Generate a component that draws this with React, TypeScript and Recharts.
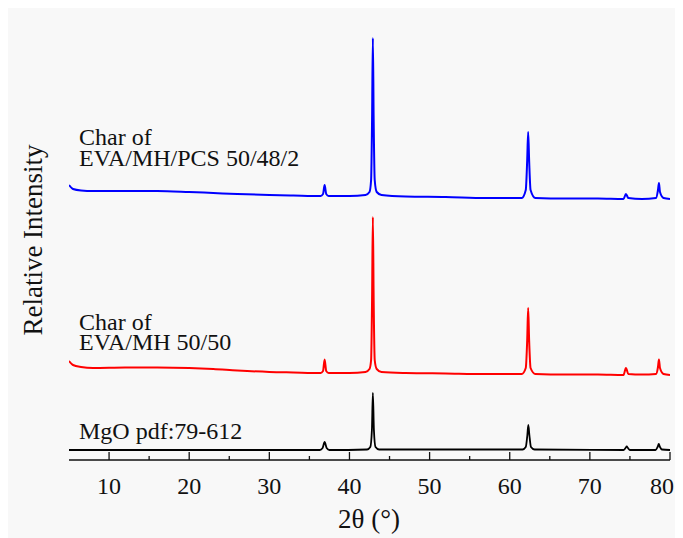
import React from 'react';
import { LineChart, Line, XAxis, YAxis } from 'recharts';

// 2θ positions (degrees) and relative intensity (arbitrary units)
const mgoTheta = [5, 20, 36.3, 36.65, 36.9, 37.15, 37.5, 42.2, 42.6, 42.8, 42.92, 43.05, 43.25, 43.7, 61.6, 62.0, 62.2, 62.32, 62.45, 62.65, 63.1, 74.2, 74.45, 74.6, 74.75, 75.0, 78.2, 78.45, 78.6, 78.75, 79.0, 80];
const mgoInt = [10, 10, 10, 12, 18, 12, 10, 10.5, 13, 30, 67, 30, 13, 10.5, 10.5, 13, 25, 35, 25, 13, 10.5, 10, 12, 13.5, 12, 10, 10, 13, 16, 13, 10.5, 10];

const charTheta = [5, 5.5, 6.5, 8, 12, 16, 20, 23, 26, 30, 33, 36.4, 36.7, 36.9, 37.1, 37.4, 40, 42.0, 42.5, 42.7, 42.82, 42.92, 43.02, 43.15, 43.4, 44, 47, 52, 57, 61.5, 62.0, 62.18, 62.3, 62.42, 62.6, 63.2, 67, 71, 74.2, 74.5, 74.8, 76.5, 78.25, 78.5, 78.62, 78.75, 79.2, 80];
const mhInt = [99, 95, 93, 92, 92.5, 92.5, 92, 91, 89.5, 88, 87.5, 87, 89, 100.5, 89, 87, 87, 88, 91, 100, 160, 243, 160, 100, 91, 88, 87, 86.5, 86, 86, 92, 120, 152, 120, 92, 86, 85.5, 85.5, 85, 92, 86, 85.5, 86, 93, 100.5, 92, 86, 85];
const pcsInt = [275, 271, 269.5, 269, 269, 269, 268, 267, 266, 265, 264.5, 264, 266, 275, 266, 264, 264, 265, 268, 280, 340, 422, 340, 280, 268, 265, 263.5, 263, 262, 262, 270, 300, 328, 300, 270, 262, 261.5, 261.5, 261, 266, 262, 261, 262, 270, 277, 268, 262, 261];

const majorTicks = [10, 20, 30, 40, 50, 60, 70, 80];
const minorTicks = [15, 25, 35, 45, 55, 65, 75];
const allTicks = [...majorTicks, ...minorTicks].sort((a, b) => a - b);

const labelPCS = ['Char of', 'EVA/MH/PCS 50/48/2'];
const labelMH = ['Char of', 'EVA/MH 50/50'];
const labelMgO = 'MgO pdf:79-612';

const mgoData = mgoTheta.map((t, i) => ({ t, v: mgoInt[i] }));
const mhData = charTheta.map((t, i) => ({ t, v: mhInt[i] }));
const pcsData = charTheta.map((t, i) => ({ t, v: pcsInt[i] }));

const FONT = "'Liberation Serif', 'DejaVu Serif', serif";
const W = 675;
const H = 530;
const textStyle: React.CSSProperties = { fontFamily: FONT, fontSize: 24 };
const titleStyle: React.CSSProperties = { fontFamily: FONT, fontSize: 27 };

function BottomTick(props: any) {
  const { x, y, payload } = props;
  const v = payload.value;
  const major = majorTicks.includes(v);
  const last = v === majorTicks[majorTicks.length - 1];
  return (
    <g>
      <line x1={x} x2={x} y1={y} y2={y - (major ? 8 : 4)} stroke="#111" strokeWidth={1.3} />
      {major && (
        <text
          x={last ? x + 4 : x}
          y={y + 34}
          textAnchor={last ? 'end' : 'middle'}
          style={textStyle}
          fill="#111"
        >
          {v}
        </text>
      )}
    </g>
  );
}

export default function App() {
  return (
    <div style={{ position: 'relative', width: W, height: H, background: '#f8f8f8', fontFamily: FONT }}>
      <LineChart width={W} height={H} margin={{ top: 11, left: 61, right: 13, bottom: 0 }} style={{ overflow: 'visible' }}>
        <XAxis
          xAxisId="b"
          dataKey="t"
          type="number"
          domain={[5, 80]}
          allowDataOverflow
          ticks={allTicks}
          interval={0}
          tickSize={0}
          tickMargin={0}
          tickLine={false}
          tick={<BottomTick />}
          height={78}
          axisLine={{ stroke: '#111', strokeWidth: 1.6 }}
        />
        <XAxis
          xAxisId="t"
          orientation="top"
          dataKey="t"
          type="number"
          domain={[5, 80]}
          allowDataOverflow
          tick={false}
          tickLine={false}
          height={0}
          axisLine={{ stroke: '#111', strokeWidth: 1.6 }}
        />
        <YAxis
          yAxisId="l"
          type="number"
          domain={[0, 441]}
          allowDataOverflow
          tick={false}
          tickLine={false}
          width={0}
          axisLine={{ stroke: '#111', strokeWidth: 1.6 }}
        />
        <YAxis
          yAxisId="r"
          orientation="right"
          type="number"
          domain={[0, 441]}
          allowDataOverflow
          tick={false}
          tickLine={false}
          width={0}
          axisLine={{ stroke: '#111', strokeWidth: 1.6 }}
        />
        <Line xAxisId="b" yAxisId="l" data={mgoData} dataKey="v" type="monotone" stroke="#000000" strokeWidth={1.8} dot={false} isAnimationActive={false} />
        <Line xAxisId="b" yAxisId="l" data={mhData} dataKey="v" type="monotone" stroke="#ff0000" strokeWidth={2} dot={false} isAnimationActive={false} />
        <Line xAxisId="b" yAxisId="l" data={pcsData} dataKey="v" type="monotone" stroke="#0000ff" strokeWidth={2} dot={false} isAnimationActive={false} />
      </LineChart>
      <svg width={W} height={H} style={{ position: 'absolute', left: 0, top: 0, pointerEvents: 'none', overflow: 'visible' }}>
        <g style={textStyle} fill="#111">
          <text x={71} y={137}>{labelPCS[0]}</text>
          <text x={71} y={158}>{labelPCS[1]}</text>
          <text x={71} y={322}>{labelMH[0]}</text>
          <text x={71} y={342}>{labelMH[1]}</text>
          <text x={71} y={431}>{labelMgO}</text>
        </g>
        <g style={titleStyle} fill="#111">
          <text x={361} y={520} textAnchor="middle">2θ (°)</text>
          <text x={34} y={232} textAnchor="middle" transform="rotate(-90 34 232)">Relative Intensity</text>
        </g>
      </svg>
    </div>
  );
}
